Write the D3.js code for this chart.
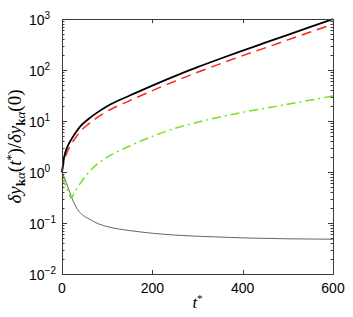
<!DOCTYPE html>
<html>
<head>
<meta charset="utf-8">
<script src="https://cdn.jsdelivr.net/npm/d3@7"></script>
<style>
  body { margin: 0; background: #fff; }
  svg { display: block; }
</style>
</head>
<body>
<div id="chart"></div>
<script>
// time samples (t*) and the four normalised responses
var tSteps = [0, 5, 10, 15, 20, 30, 40, 60, 80, 100, 150, 200, 250, 300, 350, 400, 450, 500, 550, 600];
var blackThick = [1, 2.0, 2.82, 3.55, 4.27, 5.89, 7.76, 11.2, 15.1, 19.5, 31.6, 49.5, 75.9, 113.5, 166, 240, 343, 490, 700, 1000];
var redDashed = [1, 1.66, 2.29, 2.88, 3.47, 4.68, 6.17, 8.91, 12.0, 15.5, 25.1, 39.4, 60.3, 90.2, 132, 191, 272, 389, 556, 794];
var greenDashDot = [0.79, 0.62, 0.49, 0.39, 0.31, 0.43, 0.59, 1.0, 1.48, 1.95, 3.24, 5.0, 7.16, 9.44, 12.0, 14.8, 17.8, 21.4, 25.7, 30.9];
var grayThin = [1, 0.78, 0.6, 0.45, 0.34, 0.215, 0.16, 0.12, 0.097, 0.085, 0.071, 0.063, 0.058, 0.055, 0.053, 0.051, 0.05, 0.049, 0.0485, 0.048];

var xTickValues = [0, 200, 400, 600];
var yDecades = [-2, -1, 0, 1, 2, 3];

var width = 353, height = 317;
var margin = {left: 62, right: 20, top: 19, bottom: 43};

var svg = d3.select("#chart").append("svg")
    .attr("width", width)
    .attr("height", height);

var x = d3.scaleLinear()
    .domain([0, 600])
    .range([margin.left, width - margin.right]);

var y = d3.scaleLog()
    .domain([1e-2, 1e3])
    .range([height - margin.bottom, margin.top]);

var x0 = x.range()[0], x1 = x.range()[1];
var y0 = y.range()[0], y1 = y.range()[1];
var axisColor = "#3a3a3a";

// ticks (inside, mirrored on the opposite side like a boxed plot)
var ticks = svg.append("g").attr("stroke", axisColor).attr("stroke-width", 1);

y.ticks().forEach(function(v) {
    var isMajor = Math.abs(Math.log10(v) - Math.round(Math.log10(v))) < 1e-9;
    var len = isMajor ? 5 : 2.5;
    var py = Math.round(y(v)) + 0.5;
    ticks.append("line").attr("x1", x0).attr("x2", x0 + len).attr("y1", py).attr("y2", py);
    ticks.append("line").attr("x1", x1).attr("x2", x1 - len).attr("y1", py).attr("y2", py);
});

xTickValues.forEach(function(v) {
    var px = Math.round(x(v)) + 0.5;
    ticks.append("line").attr("x1", px).attr("x2", px).attr("y1", y0).attr("y2", y0 - 4);
    ticks.append("line").attr("x1", px).attr("x2", px).attr("y1", y1).attr("y2", y1 + 4);
});

// curves
var line = d3.line()
    .x(function(d) { return x(d[0]); })
    .y(function(d) { return y(d[1]); })
    .curve(d3.curveMonotoneX);

var plot = svg.append("g");

function addCurve(vals, color, w, dash) {
    var path = plot.append("path")
        .datum(d3.zip(tSteps, vals))
        .attr("fill", "none")
        .attr("stroke", color)
        .attr("stroke-width", w)
        .attr("d", line);
    if (dash) path.attr("stroke-dasharray", dash);
}

addCurve(grayThin, "#555555", 0.9);
addCurve(greenDashDot, "#77e01a", 1.5, "9,4,2,4");
addCurve(redDashed, "#ff2020", 1.5, "10,6");
addCurve(blackThick, "#000000", 1.8);

// frame
svg.append("rect")
    .attr("x", x0 + 0.5)
    .attr("y", y1 + 0.5)
    .attr("width", x1 - x0)
    .attr("height", y0 - y1)
    .attr("fill", "none")
    .attr("stroke", axisColor)
    .attr("stroke-width", 1);

// tick labels
var labelFont = "'Liberation Sans', Arial, Helvetica, sans-serif";

svg.append("g").selectAll("text")
    .data(xTickValues)
    .join("text")
    .attr("x", function(d) { return x(d); })
    .attr("y", y0 + 19)
    .attr("text-anchor", "middle")
    .attr("font-family", labelFont)
    .attr("font-size", "14px")
    .attr("fill", "#000")
    .text(function(d) { return d; });

var yl = svg.append("g").selectAll("text")
    .data(yDecades)
    .join("text")
    .attr("x", 29)
    .attr("y", function(d) { return y(Math.pow(10, d)) + 6; })
    .attr("font-family", labelFont)
    .attr("font-size", "14px")
    .attr("fill", "#000");

yl.append("tspan").text("10");
yl.append("tspan")
    .attr("dy", -6)
    .attr("font-size", "10px")
    .text(function(d) { return d < 0 ? "\u2212" + (-d) : d; });

// axis titles
var serif = "'Liberation Serif', 'DejaVu Serif', serif";

var xt = svg.append("text")
    .attr("x", (x0 + x1) / 2)
    .attr("y", 308)
    .attr("text-anchor", "middle")
    .attr("font-family", serif)
    .attr("font-size", "17px")
    .attr("font-style", "italic");
xt.append("tspan").text("t");
xt.append("tspan").attr("dy", -6).attr("font-size", "11px").attr("font-style", "normal").text("*");

var yt = svg.append("text")
    .attr("transform", "translate(21," + ((y0 + y1) / 2) + ") rotate(-90)")
    .attr("text-anchor", "middle")
    .attr("font-family", serif)
    .attr("font-size", "19px")
    .attr("font-style", "italic");

function ySymbol(g) {
    g.append("tspan").text("\u03b4y");
    g.append("tspan").attr("dy", 4).attr("font-size", "13px").attr("font-weight", "bold").attr("font-style", "normal").text("k");
    g.append("tspan").attr("font-size", "13px").text("\u03b1");
    g.append("tspan").attr("dy", -4).attr("font-style", "normal").text("(");
}
ySymbol(yt);
yt.append("tspan").text("t");
yt.append("tspan").attr("dy", -6).attr("font-size", "12px").attr("font-style", "normal").text("*");
yt.append("tspan").attr("dy", 6).attr("font-style", "normal").text(")/");
ySymbol(yt);
yt.append("tspan").attr("font-style", "normal").text("0)");
</script>
</body>
</html>
